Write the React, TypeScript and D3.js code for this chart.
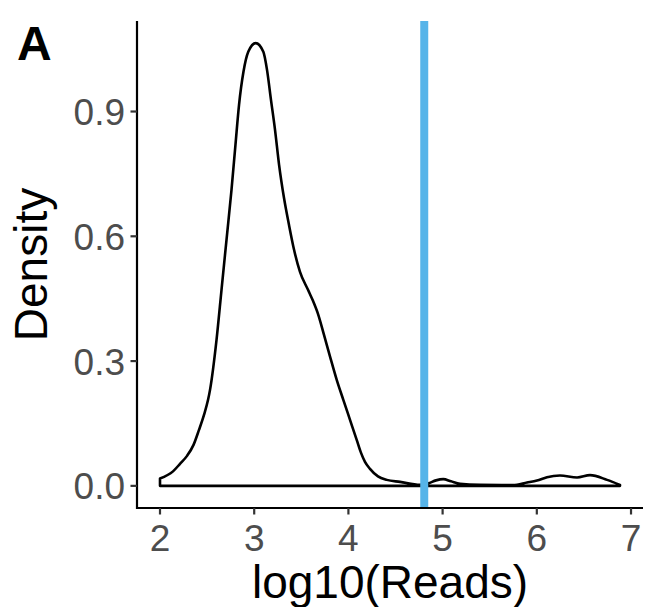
import React from "react";
import * as d3 from "d3";

const densityX = [
  2.0, 2.138, 2.212, 2.287, 2.356, 2.414, 2.467, 2.51, 2.531, 2.6, 2.653, 2.706, 2.759, 2.801, 2.839,
  2.886, 2.937, 3.016, 3.097, 3.136, 3.178, 3.221, 3.264, 3.316, 3.369, 3.423, 3.486, 3.571, 3.624, 3.677,
  3.741, 3.805, 3.876, 3.946, 4.017, 4.088, 4.134, 4.176, 4.229, 4.314, 4.407, 4.548, 4.76, 4.848, 4.93,
  5.007, 5.089, 5.185, 5.397, 5.747, 5.896, 6.002, 6.108, 6.246, 6.427, 6.565, 6.745, 6.883,
];
const densityY = [
  0.0176, 0.0349, 0.0529, 0.0721, 0.0986, 0.1346, 0.1707, 0.2068, 0.2308, 0.351, 0.4713, 0.5915, 0.7117,
  0.8199, 0.9161, 0.9954, 1.0435, 1.0644, 1.0435, 1.0002, 0.9281, 0.856, 0.7718, 0.6925, 0.6276, 0.5675,
  0.5146, 0.4713, 0.4448, 0.4136, 0.3631, 0.3109, 0.2549, 0.2068, 0.1587, 0.1106, 0.0793, 0.0577, 0.0409,
  0.0228, 0.0144, 0.0096, 0.0024, 0.006, 0.0132, 0.0161, 0.0108, 0.0048, 0.0024, 0.0019, 0.0079, 0.0127,
  0.0209, 0.0248, 0.02, 0.0257, 0.0144, 0.0024,
];
const cutoff = 4.805;
const xTicks = [2, 3, 4, 5, 6, 7];
const yTicks = [0, 0.3, 0.6, 0.9];
const yTickLabels = ["0.0", "0.3", "0.6", "0.9"];

const W = 645;
const H = 607;
const FONT = "'Liberation Sans', Arial, Helvetica, sans-serif";

export default function App() {
  const xMin = d3.min(densityX)!;
  const xMax = d3.max(densityX)!;
  const xPad = (xMax - xMin) * 0.05;
  const yMax = d3.max(densityY)!;
  const yPad = yMax * 0.05;

  const x = d3.scaleLinear().domain([xMin - xPad, xMax + xPad]).range([137, 643]);
  const y = d3.scaleLinear().domain([-yPad, yMax + yPad]).range([508, 21]);

  const pts = densityX.map((v, i) => ({ x: v, y: densityY[i] }));
  const area = d3
    .area<{ x: number; y: number }>()
    .x((d) => x(d.x))
    .y0(() => y(0))
    .y1((d) => y(d.y))
    .curve(d3.curveMonotoneX);

  const [x0, x1] = x.range();
  const [yb, yt] = y.range();

  return (
    <svg
      width={W}
      height={H}
      style={{ position: "absolute", left: 0, top: 0, background: "#fff" }}
      fontFamily={FONT}
    >
      <rect width={W} height={H} fill="#fff" />
      <path
        d={area(pts) || ""}
        fill="none"
        stroke="#000"
        strokeWidth={2.6}
        strokeLinejoin="round"
      />
      <line x1={x(cutoff)} x2={x(cutoff)} y1={yt} y2={yb} stroke="#56B4E9" strokeWidth={8} />

      {/* axes */}
      <line x1={x0} x2={x0} y1={yt} y2={yb + 1} stroke="#000" strokeWidth={2.2} />
      <line x1={x0 - 1} x2={x1} y1={yb} y2={yb} stroke="#000" strokeWidth={2.2} />

      {yTicks.map((t, i) => (
        <g key={"y" + t}>
          <line x1={x0 - 6.5} x2={x0} y1={y(t)} y2={y(t)} stroke="#333" strokeWidth={2.2} />
          <text
            x={x0 - 12}
            y={y(t) + 13.5}
            textAnchor="end"
            fontSize={37}
            fill="#4D4D4D"
          >
            {yTickLabels[i]}
          </text>
        </g>
      ))}
      {xTicks.map((t) => (
        <g key={"x" + t}>
          <line x1={x(t)} x2={x(t)} y1={yb} y2={yb + 6.5} stroke="#333" strokeWidth={2.2} />
          <text x={x(t)} y={551} textAnchor="middle" fontSize={37} fill="#4D4D4D">
            {t}
          </text>
        </g>
      ))}

      <text x={(x0 + x1) / 2} y={598} textAnchor="middle" fontSize={46} fill="#000">
        log10(Reads)
      </text>
      <text
        transform={`translate(47, ${(yt + yb) / 2}) rotate(-90)`}
        textAnchor="middle"
        fontSize={46}
        fill="#000"
      >
        Density
      </text>
      <text x={17} y={60} fontSize={48} fontWeight="bold" fill="#000">
        A
      </text>
    </svg>
  );
}
